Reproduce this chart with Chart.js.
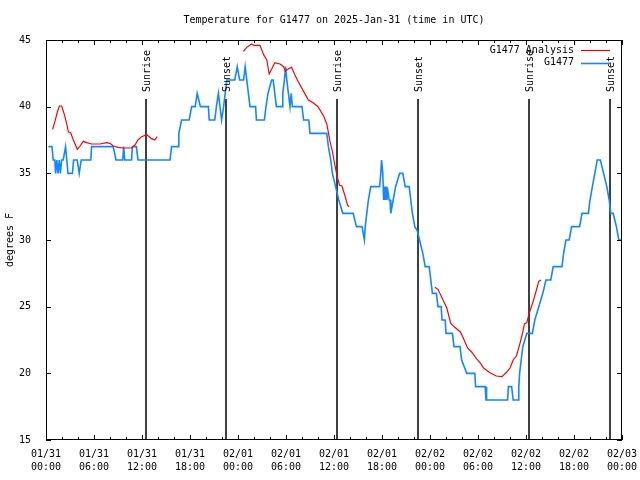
<!DOCTYPE html>
<html>
<head>
<meta charset="utf-8">
<title>Temperature for G1477</title>
<script src="https://cdn.jsdelivr.net/npm/chart.js@4.4.1/dist/chart.umd.min.js"></script>
<style>
  html, body { margin: 0; padding: 0; background: #fff; }
  canvas { display: block; }
</style>
</head>
<body>
<canvas id="tempChart" width="640" height="480"></canvas>
<script>
// hours after 2025-01-31 00:00 UTC

// G1477 observations (deg F)
const obsHours = [
  0.3, 0.75, 0.9, 1.1, 1.2, 1.35, 1.5, 1.65, 1.8, 1.95, 2.15, 2.45, 2.6, 2.75, 3.3, 3.45,
  3.9, 4.15, 4.4, 5.6, 5.7, 8.4, 8.75, 9.6, 9.7, 9.85, 10.7, 10.8, 11.3, 11.5, 15.5, 15.7,
  16.5, 16.6, 16.95, 17.9, 18.2, 18.65, 18.9, 19.1, 19.3, 20.3, 20.4, 21.1, 21.3, 21.55, 21.75, 21.95,
  22.2, 22.4, 22.6, 23.6, 23.9, 24.2, 24.7, 24.9, 25.1, 25.3, 25.5, 26.2, 26.3, 27.3, 27.5, 27.75,
  28.2, 28.4, 28.6, 28.8, 29.5, 29.6, 29.8, 29.95, 30.1, 30.3, 30.5, 30.65, 30.8, 32.0, 32.2, 32.85,
  33.0, 35.1, 35.3, 35.6, 35.8, 36.2, 36.6, 37.1, 38.4, 38.8, 39.5, 39.8, 39.9, 40.1, 40.3, 40.6,
  41.7, 41.85, 41.95, 42.1, 42.2, 42.3, 42.4, 42.5, 42.6, 42.75, 42.9, 43.0, 43.1, 43.4, 43.7, 44.2,
  44.6, 44.9, 45.4, 45.6, 45.8, 46.1, 46.4, 46.7, 47.1, 47.4, 47.9, 48.1, 48.3, 48.8, 49.0, 49.4,
  49.5, 49.9, 50.0, 50.8, 51.0, 51.75, 51.96, 52.6, 53.6, 53.7, 54.9, 55.0, 55.05, 55.1, 57.7, 57.8,
  58.2, 58.4, 59.0, 59.1, 59.2, 59.4, 59.6, 60.1, 60.8, 61.1, 61.6, 62.1, 62.5, 63.1, 63.4, 64.5,
  64.7, 65.0, 65.4, 65.7, 66.7, 67.0, 67.8, 68.0, 68.3, 68.6, 68.9, 69.3, 69.7, 70.1, 70.4, 70.6,
  70.9, 71.3, 71.6, 72.0
];
const obsTemps = [
  37, 37, 36, 36, 35, 36, 35, 36, 35, 36, 36, 37, 36, 35, 35, 36,
  36, 35, 36, 36, 37, 37, 36, 36, 37, 36, 36, 37, 37, 36, 36, 37,
  37, 38, 39, 39, 40, 40, 41, 40.5, 40, 40, 39, 39, 40, 41, 40, 39,
  40, 41, 42, 42, 43, 42, 42, 43, 42, 41, 40, 40, 39, 39, 40, 41,
  42, 42, 41, 40, 40, 41, 42, 43, 42, 41, 40, 41, 40, 40, 39, 39,
  38, 38, 37, 36, 35, 34, 33, 32, 32, 31, 31, 30, 31, 32, 33, 34,
  34, 35, 36, 35, 33, 34, 33, 34, 33, 33.6, 33, 33, 32, 33, 34, 35,
  35, 34, 34, 33, 32, 31, 30.7, 30, 29, 28, 28, 27, 26, 26, 25, 25,
  24, 24, 23, 23, 22, 22, 21, 20, 20, 19, 19, 18, 19, 18, 18, 19,
  19, 18, 18, 19, 20, 21, 22, 23, 23, 24, 25, 26, 27, 27, 28, 28,
  29, 30, 30, 31, 31, 32, 32, 33, 34, 35, 36, 36, 35, 34, 33, 32,
  32, 31, 30, 30
];

// G1477 Analysis (deg F), null = gap
const anaHours = [
  0.83, 1.12, 1.42, 1.67, 1.96, 2.25, 2.58, 2.8, 3.08, 3.42, 3.92, 4.25, 4.67, 5.08, 5.7, 6.75,
  7.58, 8.0, 8.42, 9.0, 9.67, 10.7, 11.1, 11.5, 11.96, 12.6, 13.2, 13.6, 13.9,
  19,
  24.67, 25.1, 25.7, 26.0, 26.75, 27.2, 27.6, 27.9, 28.2, 28.6, 29.25, 29.7, 29.9, 30.3, 30.7, 31.1,
  31.5, 32.2, 32.8, 33.4, 34.0, 34.7, 35.1, 35.5, 35.8, 36.1, 36.4, 36.7, 37.0, 37.4, 37.7, 37.9,
  43,
  48.6, 49.0, 49.7, 50.1, 50.6, 51.1, 51.8, 52.2, 52.7, 53.2, 53.8, 54.25, 54.7, 55.5, 56.3, 57.0,
  57.6, 58.0, 58.4, 58.8, 59.25, 59.6, 59.8, 60.1, 60.4, 60.7, 60.9, 61.3, 61.6, 61.9
];
const anaTemps = [
  38.3, 38.9, 39.6, 40.05, 40.05, 39.5, 38.75, 38.1, 38.05, 37.5, 36.8, 37.05, 37.4, 37.3, 37.2, 37.2,
  37.3, 37.25, 37.05, 36.95, 36.9, 36.9, 37.1, 37.5, 37.75, 37.9, 37.6, 37.5, 37.75,
  null,
  44.15, 44.45, 44.7, 44.6, 44.6, 43.9, 43.5, 42.45, 42.8, 43.3, 43.2, 43.0, 42.65, 42.85, 42.95, 42.4,
  41.9, 41.15, 40.5, 40.3, 40.0, 39.3, 38.7, 37.4, 36.65, 35.65, 34.75, 34.1, 34.05, 33.25, 32.6, 32.5,
  null,
  26.45, 26.3, 25.4, 24.9, 23.75, 23.45, 23.1, 22.6, 21.9, 21.6, 21.1, 20.8, 20.4, 20.05, 19.8, 19.75,
  20.1, 20.4, 21.0, 21.3, 22.25, 23.1, 23.7, 23.8, 24.5, 25.05, 25.4, 26.25, 26.9, 27.0
];

// sunrise / sunset markers
const sunHours = [12.5, 22.5, 36.4, 46.5, 60.4, 70.5];
const sunLabels = ["Sunrise", "Sunset", "Sunrise", "Sunset", "Sunrise", "Sunset"];

// x tick labels every 6 hours
const tickDates = ["01/31", "01/31", "01/31", "01/31", "02/01", "02/01", "02/01", "02/01",
                   "02/02", "02/02", "02/02", "02/02", "02/03"];
const tickTimes = ["00:00", "06:00", "12:00", "18:00", "00:00", "06:00", "12:00", "18:00",
                   "00:00", "06:00", "12:00", "18:00", "00:00"];

const FONT = "'DejaVu Sans Mono', monospace";
const RED = "#ff0000";
const BLUE = "#1188ff";

Chart.defaults.font.family = FONT;
Chart.defaults.font.size = 10;
Chart.defaults.color = "#000";

// ==========================
// gnuplot style frame, ticks, markers, legend
// ==========================

const gnuplotLook = {
  id: "gnuplotLook",

  beforeDatasetsDraw(chart) {
    const { ctx, chartArea, scales: { x } } = chart;
    ctx.save();
    ctx.strokeStyle = "#000";
    ctx.lineWidth = 1.5;
    sunHours.forEach(h => {
      const px = Math.round(x.getPixelForValue(h));
      ctx.beginPath();
      ctx.moveTo(px, chartArea.bottom);
      ctx.lineTo(px, chartArea.top + 59);
      ctx.stroke();
    });
    ctx.restore();
  },

  afterDatasetsDraw(chart) {
    const { ctx, chartArea: a, scales: { x, y } } = chart;
    ctx.save();

    // border
    ctx.strokeStyle = "#000";
    ctx.lineWidth = 1;
    ctx.strokeRect(a.left + 0.5, a.top + 0.5, a.right - a.left - 1, a.bottom - a.top - 1);

    // inward ticks
    ctx.beginPath();
    x.ticks.forEach(t => {
      const px = Math.round(x.getPixelForValue(t.value)) + 0.5;
      const len = t.value % 6 === 0 ? 5 : 3;
      ctx.moveTo(px, a.bottom);
      ctx.lineTo(px, a.bottom - len);
      ctx.moveTo(px, a.top);
      ctx.lineTo(px, a.top + len);
    });
    y.ticks.forEach(t => {
      const py = Math.round(y.getPixelForValue(t.value)) + 0.5;
      ctx.moveTo(a.left, py);
      ctx.lineTo(a.left + 5, py);
      ctx.moveTo(a.right, py);
      ctx.lineTo(a.right - 5, py);
    });
    ctx.stroke();

    // sunrise / sunset labels
    ctx.fillStyle = "#000";
    ctx.font = "10px " + FONT;
    ctx.textAlign = "left";
    ctx.textBaseline = "middle";
    sunHours.forEach((h, i) => {
      const px = x.getPixelForValue(h);
      ctx.save();
      ctx.translate(px + 1.5, a.top + 52);
      ctx.rotate(-Math.PI / 2);
      ctx.fillText(sunLabels[i], 0, 0);
      ctx.restore();
    });

    // legend
    ctx.textAlign = "right";
    chart.data.datasets.forEach((ds, i) => {
      const ly = a.top + 10 + i * 12.5;
      ctx.fillStyle = "#000";
      ctx.fillText(ds.label, a.right - 48, ly);
      ctx.strokeStyle = ds.borderColor;
      ctx.lineWidth = ds.borderWidth;
      ctx.beginPath();
      ctx.moveTo(a.right - 41, Math.round(ly) + 0.5);
      ctx.lineTo(a.right - 12, Math.round(ly) + 0.5);
      ctx.stroke();
    });

    ctx.restore();
  }
};

// ==========================
// CHART
// ==========================

const canvas = document.getElementById("tempChart");

new Chart(canvas, {

  type: "line",

  data: {
    datasets: [
      {
        label: "G1477 Analysis",
        data: anaHours.map((h, i) => ({ x: h, y: anaTemps[i] })),
        borderColor: RED,
        borderWidth: 1.2,
        pointRadius: 0,
        spanGaps: false
      },
      {
        label: "G1477",
        data: obsHours.map((h, i) => ({ x: h, y: obsTemps[i] })),
        borderColor: BLUE,
        borderWidth: 1.6,
        pointRadius: 0
      }
    ]
  },

  options: {
    responsive: false,
    animation: false,
    layout: {
      padding: { left: 0, right: 18, top: 0, bottom: 0 }
    },
    plugins: {
      legend: { display: false },
      tooltip: { enabled: false },
      title: {
        display: true,
        fullSize: false,
        text: "Temperature for G1477 on 2025-Jan-31 (time in UTC)",
        font: { family: FONT, size: 10, weight: "normal" },
        color: "#000",
        padding: { top: 14, bottom: 14 }
      }
    },
    scales: {
      x: {
        type: "linear",
        min: 0,
        max: 72,
        grid: { display: false },
        border: { display: false },
        ticks: {
          stepSize: 2,
          maxTicksLimit: 40,
          autoSkip: false,
          maxRotation: 0,
          minRotation: 0,
          padding: 0,
          font: { family: FONT, size: 10, lineHeight: 1.3 },
          callback: v => v % 6 === 0 ? [tickDates[v / 6], tickTimes[v / 6]] : ""
        },
        afterFit: scale => {
          scale.height = 40;
          scale.paddingLeft = 0;
          scale.paddingRight = 0;
        }
      },
      y: {
        min: 15,
        max: 45,
        grid: { display: false },
        border: { display: false },
        ticks: {
          stepSize: 5,
          padding: 7,
          font: { family: FONT, size: 10 }
        },
        title: {
          display: true,
          text: "degrees F",
          font: { family: FONT, size: 10 },
          padding: { top: 4, bottom: 0 }
        },
        afterFit: scale => {
          scale.width = 46;
          scale.paddingTop = 0;
          scale.paddingBottom = 0;
        }
      }
    }
  },

  plugins: [gnuplotLook]

});
</script>
</body>
</html>
